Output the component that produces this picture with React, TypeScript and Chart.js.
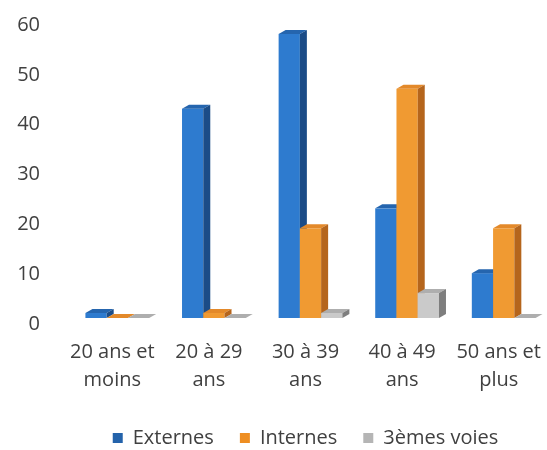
import React, { useEffect, useRef } from "react";
import { Chart, registerables } from "chart.js";

Chart.register(...registerables);

const categories: string[][] = [
  ["20 ans et", "moins"],
  ["20 à 29", "ans"],
  ["30 à 39", "ans"],
  ["40 à 49", "ans"],
  ["50 ans et", "plus"],
];
const seriesNames = ["Externes", "Internes", "3èmes voies"];
const externes = [1, 42, 57, 22, 9];
const internes = [0, 1, 18, 46, 18];
const troisiemes = [0, 0, 1, 5, 0];
const yTicks = [0, 10, 20, 30, 40, 50, 60];

const legendColors = ["#2463AB", "#EE8E22", "#B5B5B5"];
const frontColors = ["#2E7BCF", "#F09A32", "#CACACA"];
const topColors = ["#2565AE", "#E3892A", "#AEAEAE"];
const sideColors = ["#1B4C87", "#B5651C", "#7E7E7E"];

// oblique 3D projection: bar depth and recess behind the axis plane
const DX = 7;
const DY = 4;
const SX = 5;
const SY = 4;

const bars3d = {
  id: "bars3d",
  beforeDatasetsDraw(chart: any) {
    const ctx = chart.ctx;
    ctx.save();
    chart.data.datasets.forEach((_ds: any, i: number) => {
      const meta = chart.getDatasetMeta(i);
      meta.data.forEach((el: any) => {
        const p = el.getProps(["x", "y", "base", "width"], true);
        const width = p.width;
        const left = p.x - width / 2 + SX;
        const right = p.x + width / 2 + SX;
        const base = p.base - SY;
        const top = Math.min(p.y, p.base) - SY;
        // front face
        ctx.fillStyle = frontColors[i];
        ctx.fillRect(left, top, width, base - top);
        // top face
        ctx.fillStyle = topColors[i];
        ctx.beginPath();
        ctx.moveTo(left, top);
        ctx.lineTo(left + DX, top - DY);
        ctx.lineTo(right + DX, top - DY);
        ctx.lineTo(right, top);
        ctx.closePath();
        ctx.fill();
        // side face
        ctx.fillStyle = sideColors[i];
        ctx.beginPath();
        ctx.moveTo(right, top);
        ctx.lineTo(right + DX, top - DY);
        ctx.lineTo(right + DX, base - DY);
        ctx.lineTo(right, base);
        ctx.closePath();
        ctx.fill();
      });
    });
    ctx.restore();
    return false;
  },
};

export default function App() {
  const canvasRef = useRef<HTMLCanvasElement | null>(null);

  useEffect(() => {
    if (!canvasRef.current) return;
    Chart.defaults.font.family = "'Open Sans', sans-serif";
    Chart.defaults.color = "#404040";
    const chart = new Chart(canvasRef.current, {
      type: "bar",
      data: {
        labels: categories,
        datasets: [
          { label: seriesNames[0], data: externes, backgroundColor: legendColors[0] },
          { label: seriesNames[1], data: internes, backgroundColor: legendColors[1] },
          { label: seriesNames[2], data: troisiemes, backgroundColor: legendColors[2] },
        ],
      },
      options: {
        responsive: false,
        animation: false,
        devicePixelRatio: 1,
        layout: { padding: { top: 23, left: 0, right: 0, bottom: 0 } },
        datasets: {
          bar: { categoryPercentage: 0.66, barPercentage: 1.0 },
        },
        scales: {
          x: {
            grid: { display: false, drawTicks: true, tickLength: 16 },
            border: { display: false },
            ticks: {
              padding: 0,
              maxRotation: 0,
              autoSkip: false,
              font: { size: 20, lineHeight: 1.4 },
              color: "#404040",
            },
            afterFit: (scale: any) => {
              scale.height = 80;
            },
          },
          y: {
            min: yTicks[0],
            max: yTicks[yTicks.length - 1],
            grid: { display: false, drawTicks: true, tickLength: 24 },
            border: { display: false },
            ticks: {
              stepSize: 10,
              padding: 0,
              labelOffset: 2,
              font: { size: 20 },
              color: "#404040",
            },
            afterFit: (scale: any) => {
              scale.width = 64;
            },
          },
        },
        plugins: {
          tooltip: { enabled: false },
          legend: {
            position: "bottom",
            fullSize: false,
            maxHeight: 48,
            labels: {
              boxWidth: 10,
              boxHeight: 10,
              padding: 26,
              font: { size: 20 },
              color: "#404040",
            },
          },
        },
      },
      plugins: [bars3d],
    } as any);
    return () => chart.destroy();
  }, []);

  return (
    <div style={{ position: "fixed", left: 0, top: 0, width: 547, height: 450, background: "#fff" }}>
      <canvas ref={canvasRef} width={547} height={450} style={{ width: 547, height: 450 }} />
    </div>
  );
}
